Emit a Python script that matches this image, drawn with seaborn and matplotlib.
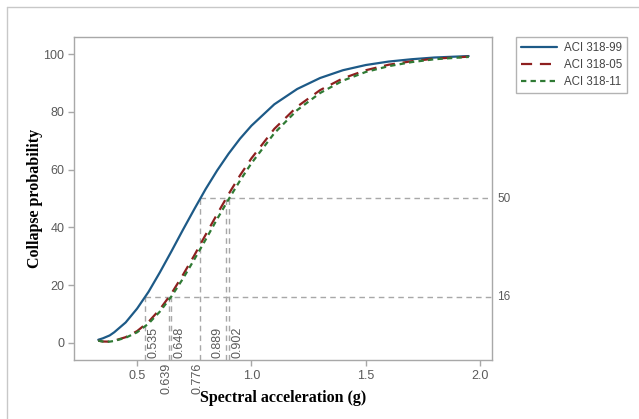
import matplotlib
matplotlib.use("Agg")
import matplotlib.pyplot as plt
import matplotlib.transforms as mtransforms
from matplotlib.lines import Line2D
import pandas as pd
import seaborn as sns

# Fragility curves: spectral acceleration (g) vs. collapse probability (%)
sa = [0.33, 0.35, 0.38, 0.40, 0.45, 0.50, 0.55, 0.60, 0.65, 0.70, 0.75, 0.80,
      0.85, 0.90, 0.95, 1.00, 1.10, 1.20, 1.30, 1.40, 1.50, 1.60, 1.70, 1.80, 1.95]
aci_99 = [1.1, 1.6, 2.6, 3.7, 7.1, 11.9, 17.7, 24.5, 31.7, 39.1, 46.3, 53.3,
          59.7, 65.5, 70.7, 75.2, 82.6, 87.9, 91.7, 94.4, 96.2, 97.4, 98.2, 98.8, 99.3]
aci_05 = [0.8, 0.5, 0.45, 0.8, 2.0, 4.1, 7.3, 11.7, 17.1, 23.5, 30.3, 37.5,
          44.6, 51.5, 58.0, 63.9, 74.1, 81.8, 87.5, 91.6, 94.4, 96.3, 97.5, 98.4, 99.1]
aci_11 = [0.8, 0.5, 0.45, 0.7, 1.8, 3.7, 6.7, 10.9, 16.1, 22.2, 28.9, 35.8,
          42.9, 49.7, 56.2, 62.2, 72.6, 80.6, 86.5, 90.8, 93.8, 95.8, 97.2, 98.2, 99.0]
series_names = ["ACI 318-99", "ACI 318-05", "ACI 318-11"]

# Percentile markers: 16th percentile and median of each curve
p16_values = [0.535, 0.639, 0.648]
p50_values = [0.776, 0.889, 0.902]
x_ticks = [0.5, 1.0, 1.5, 2.0]
y_ticks = [0, 20, 40, 60, 80, 100]

colors = {"ACI 318-99": "#1d5a87", "ACI 318-05": "#8e1f1f", "ACI 318-11": "#2f7a34"}
dash_styles = {"ACI 318-99": "", "ACI 318-05": (5, 3.5), "ACI 318-11": (2.4, 1.9)}

df = pd.concat([
    pd.DataFrame({"sa": sa, "p": vals, "code": name})
    for name, vals in zip(series_names, [aci_99, aci_05, aci_11])
])

sns.set_style("white")
plt.rcParams["font.family"] = ["Liberation Sans", "DejaVu Sans"]

fig = plt.figure(figsize=(6.39, 4.19), dpi=100)
ax = fig.add_axes([74 / 639, 59 / 419, 418 / 639, 323 / 419])

grey_line = "#a8a8a8"
grey_text = "#5a5a5a"

# reference lines behind the curves
ax.hlines(16, p16_values[0], 2.052, colors=grey_line, linestyles=(0, (4, 3)), lw=1.0, zorder=1)
ax.hlines(50, p50_values[0], 2.052, colors=grey_line, linestyles=(0, (4, 3)), lw=1.0, zorder=1)
for v in p16_values:
    ax.vlines(v, -5.9, 16, colors=grey_line, linestyles=(0, (4, 3)), lw=1.0, zorder=1)
for v in p50_values:
    ax.vlines(v, -5.9, 50, colors=grey_line, linestyles=(0, (4, 3)), lw=1.0, zorder=1)

sns.lineplot(data=df, x="sa", y="p", hue="code", style="code",
             palette=colors, dashes=dash_styles, estimator=None, sort=False,
             lw=1.6, legend=False, ax=ax, zorder=3)

ax.set_xlim(0.224, 2.052)
ax.set_ylim(-5.9, 105.9)
ax.set_xticks(x_ticks)
ax.set_xticklabels([f"{t:.1f}" for t in x_ticks])
ax.set_yticks(y_ticks)
ax.set_yticklabels([str(t) for t in y_ticks])
ax.tick_params(axis="both", direction="out", length=4, width=1, color=grey_line,
               labelcolor=grey_text, labelsize=9, pad=3, bottom=True, left=True)
for s in ax.spines.values():
    s.set_color(grey_line)
    s.set_linewidth(1.0)

ax.set_xlabel("Spectral acceleration (g)", family="Liberation Serif", weight="bold",
              fontsize=11.5, color="black", labelpad=6)
ax.set_ylabel("Collapse probability", family="Liberation Serif", weight="bold",
              fontsize=11.5, color="black", labelpad=0)

# value labels for the percentile lines
def offset(dx, dy):
    return mtransforms.offset_copy(ax.transData, fig=fig, x=dx, y=dy, units="points")

inside = {0.535: ("left", 1.5), 0.648: ("left", 1.5), 0.889: ("right", -1.5), 0.902: ("left", 1.5)}
for v, (ha, dx) in inside.items():
    ax.text(v, -5.2, f"{v:.3f}", rotation=90, ha=ha, va="bottom", fontsize=9,
            color=grey_text, transform=offset(dx, 0))
for v in [0.639, 0.776]:
    ax.text(v, -5.9, f"{v:.3f}", rotation=90, ha="center", va="top", fontsize=9,
            color=grey_text, transform=offset(-2, -2), clip_on=False)

yr = mtransforms.blended_transform_factory(ax.transAxes, ax.transData)
for lvl in [50, 16]:
    ax.text(1.012, lvl, str(lvl), ha="left", va="center", fontsize=8.5,
            color=grey_text, transform=yr)

handles = [Line2D([], [], color=colors[n], lw=1.6,
                  dashes=dash_styles[n] if dash_styles[n] else (None, None))
           for n in series_names]
handles[0].set_linestyle("-")
leg = fig.legend(handles, series_names, loc="upper left",
                 bbox_to_anchor=(516 / 639, 1 - 37 / 419), fontsize=8.3,
                 frameon=True, fancybox=False, handlelength=3.1, handletextpad=0.6,
                 borderpad=0.45, labelspacing=0.42, borderaxespad=0)
leg.get_frame().set_edgecolor("#a0a0a0")
leg.get_frame().set_linewidth(1.0)
for t in leg.get_texts():
    t.set_color("#444444")

# thin frame around the figure area
fig.add_artist(Line2D([7 / 639, 1.0], [1 - 7 / 419, 1 - 7 / 419], color="#c8c8c8", lw=1.0,
                      transform=fig.transFigure))
fig.add_artist(Line2D([7 / 639, 7 / 639], [0, 1 - 7 / 419], color="#c8c8c8", lw=1.0,
                      transform=fig.transFigure))

fig.savefig("out.png", dpi=100)
